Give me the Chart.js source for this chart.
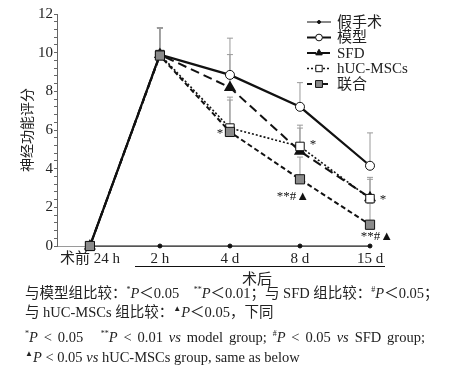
<!DOCTYPE html>
<html>
<head>
<meta charset="utf-8">
<script src="https://cdn.jsdelivr.net/npm/chart.js@4"></script>
<style>
  body { margin: 0; background: #fff; width: 449px; height: 372px; overflow: hidden; position: relative; }
  #wrap { position: absolute; left: 0; top: 0; width: 449px; height: 286px; }
  .note { position: absolute; left: 25px; width: 400px; font-family: "Liberation Serif", "Noto Sans CJK SC", serif; font-size: 14.5px; color: #222; white-space: nowrap; line-height: 18px; }
  .note sup { font-size: 8px; vertical-align: 6px; line-height: 0; }
  .just { text-align: justify; text-align-last: justify; white-space: normal; }
</style>
</head>
<body>
<div id="wrap"><canvas id="chart" width="449" height="286"></canvas></div>
<div class="note" style="top:284px">与模型组比较：<sup>*</sup><i>P</i>＜0.05　<sup>**</sup><i>P</i>＜0.01；与 SFD 组比较：<sup>#</sup><i>P</i>＜0.05；</div>
<div class="note" style="top:303px">与 hUC-MSCs 组比较：<sup>▲</sup><i>P</i>＜0.05，下同</div>
<div class="note just" style="top:328px"><sup>*</sup><i>P</i> &lt; 0.05 &nbsp; <sup>**</sup><i>P</i> &lt; 0.01 <i>vs</i> model group; <sup>#</sup><i>P</i> &lt; 0.05 <i>vs</i> SFD group;</div>
<div class="note" style="top:348px"><sup>▲</sup><i>P</i> &lt; 0.05 <i>vs</i> hUC-MSCs group, same as below</div>
<script>
// categories / values
const timePoints = ["术前 24 h", "2 h", "4 d", "8 d", "15 d"];
const shamScore = [0, 0, 0, 0, 0];
const modelScore = [0, 9.9, 8.85, 7.2, 4.15];
const sfdScore = [0, 9.9, 8.2, 4.9, 2.5];
const hucScore = [0, 9.9, 6.1, 5.15, 2.45];
const comboScore = [0, 9.85, 5.9, 3.45, 1.1];

// upper error (SD)
const modelErr = [0, 1.4, 1.9, 1.25, 1.7];
const sfdErr = [0, 1.4, 1.7, 1.2, 0.95];
const hucErr = [0, 1.4, 1.6, 1.1, 1.1];
const comboErr = [0, 1.4, 1.65, 1.15, 1.1];

const groupNames = ["假手术", "模型", "SFD", "hUC-MSCs", "联合"];

// significance marks: [dataset index, time index, text, dx, dy]
const sigMarks = [
  [4, 2, "*", -10, 2],
  [3, 3, "*", 13, -2],
  [4, 3, "**#▲", -7, 17],
  [3, 4, "*", 13, 1],
  [4, 4, "**#▲", 7, 12],
];

const serif = '"Liberation Serif", "Noto Sans CJK SC", serif';

const toXY = (arr) => arr.map((v, i) => ({ x: i, y: v }));

const datasets = [
  {
    label: groupNames[0], data: toXY(shamScore), err: null,
    borderColor: "#111", borderWidth: 1, borderDash: [],
    pointStyle: "circle", pointRadius: 2, pointBackgroundColor: "#111", pointBorderColor: "#111", order: 5,
  },
  {
    label: groupNames[1], data: toXY(modelScore), err: modelErr,
    borderColor: "#111", borderWidth: 2.2, borderDash: [],
    pointStyle: "circle", pointRadius: 4.5, pointBackgroundColor: "#fff", pointBorderColor: "#111", pointBorderWidth: 1, order: 4,
  },
  {
    label: groupNames[2], data: toXY(sfdScore), err: sfdErr,
    borderColor: "#111", borderWidth: 2, borderDash: [9, 5],
    pointStyle: "triangle", pointRadius: 5, pointBackgroundColor: "#111", pointBorderColor: "#111", order: 3,
  },
  {
    label: groupNames[3], data: toXY(hucScore), err: hucErr,
    borderColor: "#111", borderWidth: 1.6, borderDash: [2, 2],
    pointStyle: "rect", pointRadius: 6, pointBackgroundColor: "#fff", pointBorderColor: "#111", pointBorderWidth: 1, order: 2,
  },
  {
    label: groupNames[4], data: toXY(comboScore), err: comboErr,
    borderColor: "#111", borderWidth: 2, borderDash: [5, 3],
    pointStyle: "rect", pointRadius: 6.5, pointBackgroundColor: "#8a8a8a", pointBorderColor: "#111", pointBorderWidth: 1, order: 1,
  },
];
datasets.forEach((d) => { d.fill = false; d.tension = 0; d.clip = false; d.pointHoverRadius = d.pointRadius; });

// error bars (upper only), behind the lines
const errorBars = {
  id: "errorBars",
  beforeDatasetsDraw(chart) {
    const { ctx, scales: { x, y } } = chart;
    ctx.save();
    ctx.strokeStyle = "#9a9a9a";
    ctx.lineWidth = 1;
    chart.data.datasets.forEach((ds) => {
      if (!ds.err) return;
      ds.data.forEach((p, i) => {
        const e = ds.err[i];
        if (!e) return;
        const px = x.getPixelForValue(p.x);
        const y0 = y.getPixelForValue(p.y);
        const y1 = y.getPixelForValue(p.y + e);
        ctx.beginPath();
        ctx.moveTo(px, y0); ctx.lineTo(px, y1);
        ctx.moveTo(px - 3, y1); ctx.lineTo(px + 3, y1);
        ctx.stroke();
      });
    });
    ctx.restore();
  },
};

// legend, marks, x title and bracket line
const extras = {
  id: "extras",
  afterDraw(chart) {
    const { ctx, scales: { x, y } } = chart;
    ctx.save();

    // significance marks
    ctx.fillStyle = "#111";
    ctx.font = "13px " + serif;
    ctx.textAlign = "center";
    ctx.textBaseline = "middle";
    sigMarks.forEach(([di, ti, txt, dx, dy]) => {
      const p = chart.data.datasets[di].data[ti];
      ctx.fillText(txt, x.getPixelForValue(p.x) + dx, y.getPixelForValue(p.y) + dy);
    });

    // bracket line under post-op labels + title
    ctx.strokeStyle = "#111";
    ctx.lineWidth = 1;
    ctx.beginPath();
    ctx.moveTo(135, 266.5); ctx.lineTo(385, 266.5);
    ctx.stroke();
    ctx.font = "15px " + serif;
    ctx.fillStyle = "#222";
    ctx.fillText("术后", 257, 280);

    // legend
    const lx0 = 307, lx1 = 331, ty = 22, rowH = 15.5;
    chart.data.datasets.forEach((ds, i) => {
      const yy = ty + i * rowH;
      ctx.save();
      ctx.strokeStyle = ds.borderColor;
      ctx.lineWidth = Math.min(ds.borderWidth, 2);
      ctx.setLineDash(ds.borderDash);
      ctx.beginPath();
      ctx.moveTo(lx0, yy); ctx.lineTo(lx1, yy);
      ctx.stroke();
      ctx.restore();
      ctx.save();
      ctx.fillStyle = ds.pointBackgroundColor;
      ctx.strokeStyle = ds.pointBorderColor;
      ctx.lineWidth = 1;
      Chart.helpers.drawPoint(ctx, {
        pointStyle: ds.pointStyle,
        radius: ds.pointRadius * 0.75,
        rotation: 0,
        borderWidth: 1,
      }, (lx0 + lx1) / 2, yy);
      ctx.restore();
      ctx.fillStyle = "#222";
      ctx.textAlign = "left";
      ctx.font = "15px " + serif;
      ctx.fillText(ds.label, 337, yy + 1);
    });
    ctx.restore();
  },
};

new Chart(document.getElementById("chart"), {
  type: "line",
  data: { datasets },
  options: {
    responsive: false,
    animation: false,
    events: [],
    layout: { padding: { top: 14, right: 79, left: 0, bottom: 0 } },
    plugins: { legend: { display: false }, tooltip: { enabled: false } },
    scales: {
      x: {
        type: "linear",
        min: -0.47,
        max: 4,
        afterBuildTicks: (s) => { s.ticks = timePoints.map((_, i) => ({ value: i })); },
        afterFit: (s) => { s.height = 40; },
        grid: { display: false, drawTicks: false },
        border: { display: true, color: "#9a9a9a", width: 1 },
        ticks: {
          padding: 4,
          color: "#222",
          font: { family: serif, size: 15 },
          maxRotation: 0,
          callback: (v) => timePoints[v] ?? "",
        },
      },
      y: {
        min: 0,
        max: 12,
        afterBuildTicks: (s) => {
          const t = [];
          for (let k = 0; k <= 30; k++) t.push({ value: +(k * 0.4).toFixed(1) });
          s.ticks = t;
        },
        afterFit: (s) => { s.width = 57; },
        border: { display: true, color: "#666", width: 1 },
        grid: { drawOnChartArea: false, tickLength: 3, color: "#666" },
        ticks: {
          padding: 1,
          color: "#222",
          font: { family: serif, size: 15 },
          autoSkip: false,
          callback: (v) => (Math.abs(v - Math.round(v)) < 1e-6 && Math.round(v) % 2 === 0 ? String(Math.round(v)) : ""),
        },
        title: {
          display: true,
          text: "神经功能评分",
          color: "#222",
          font: { family: serif, size: 14 },
          padding: { top: 20, bottom: 0 },
        },
      },
    },
  },
  plugins: [errorBars, extras],
});
</script>
</body>
</html>
